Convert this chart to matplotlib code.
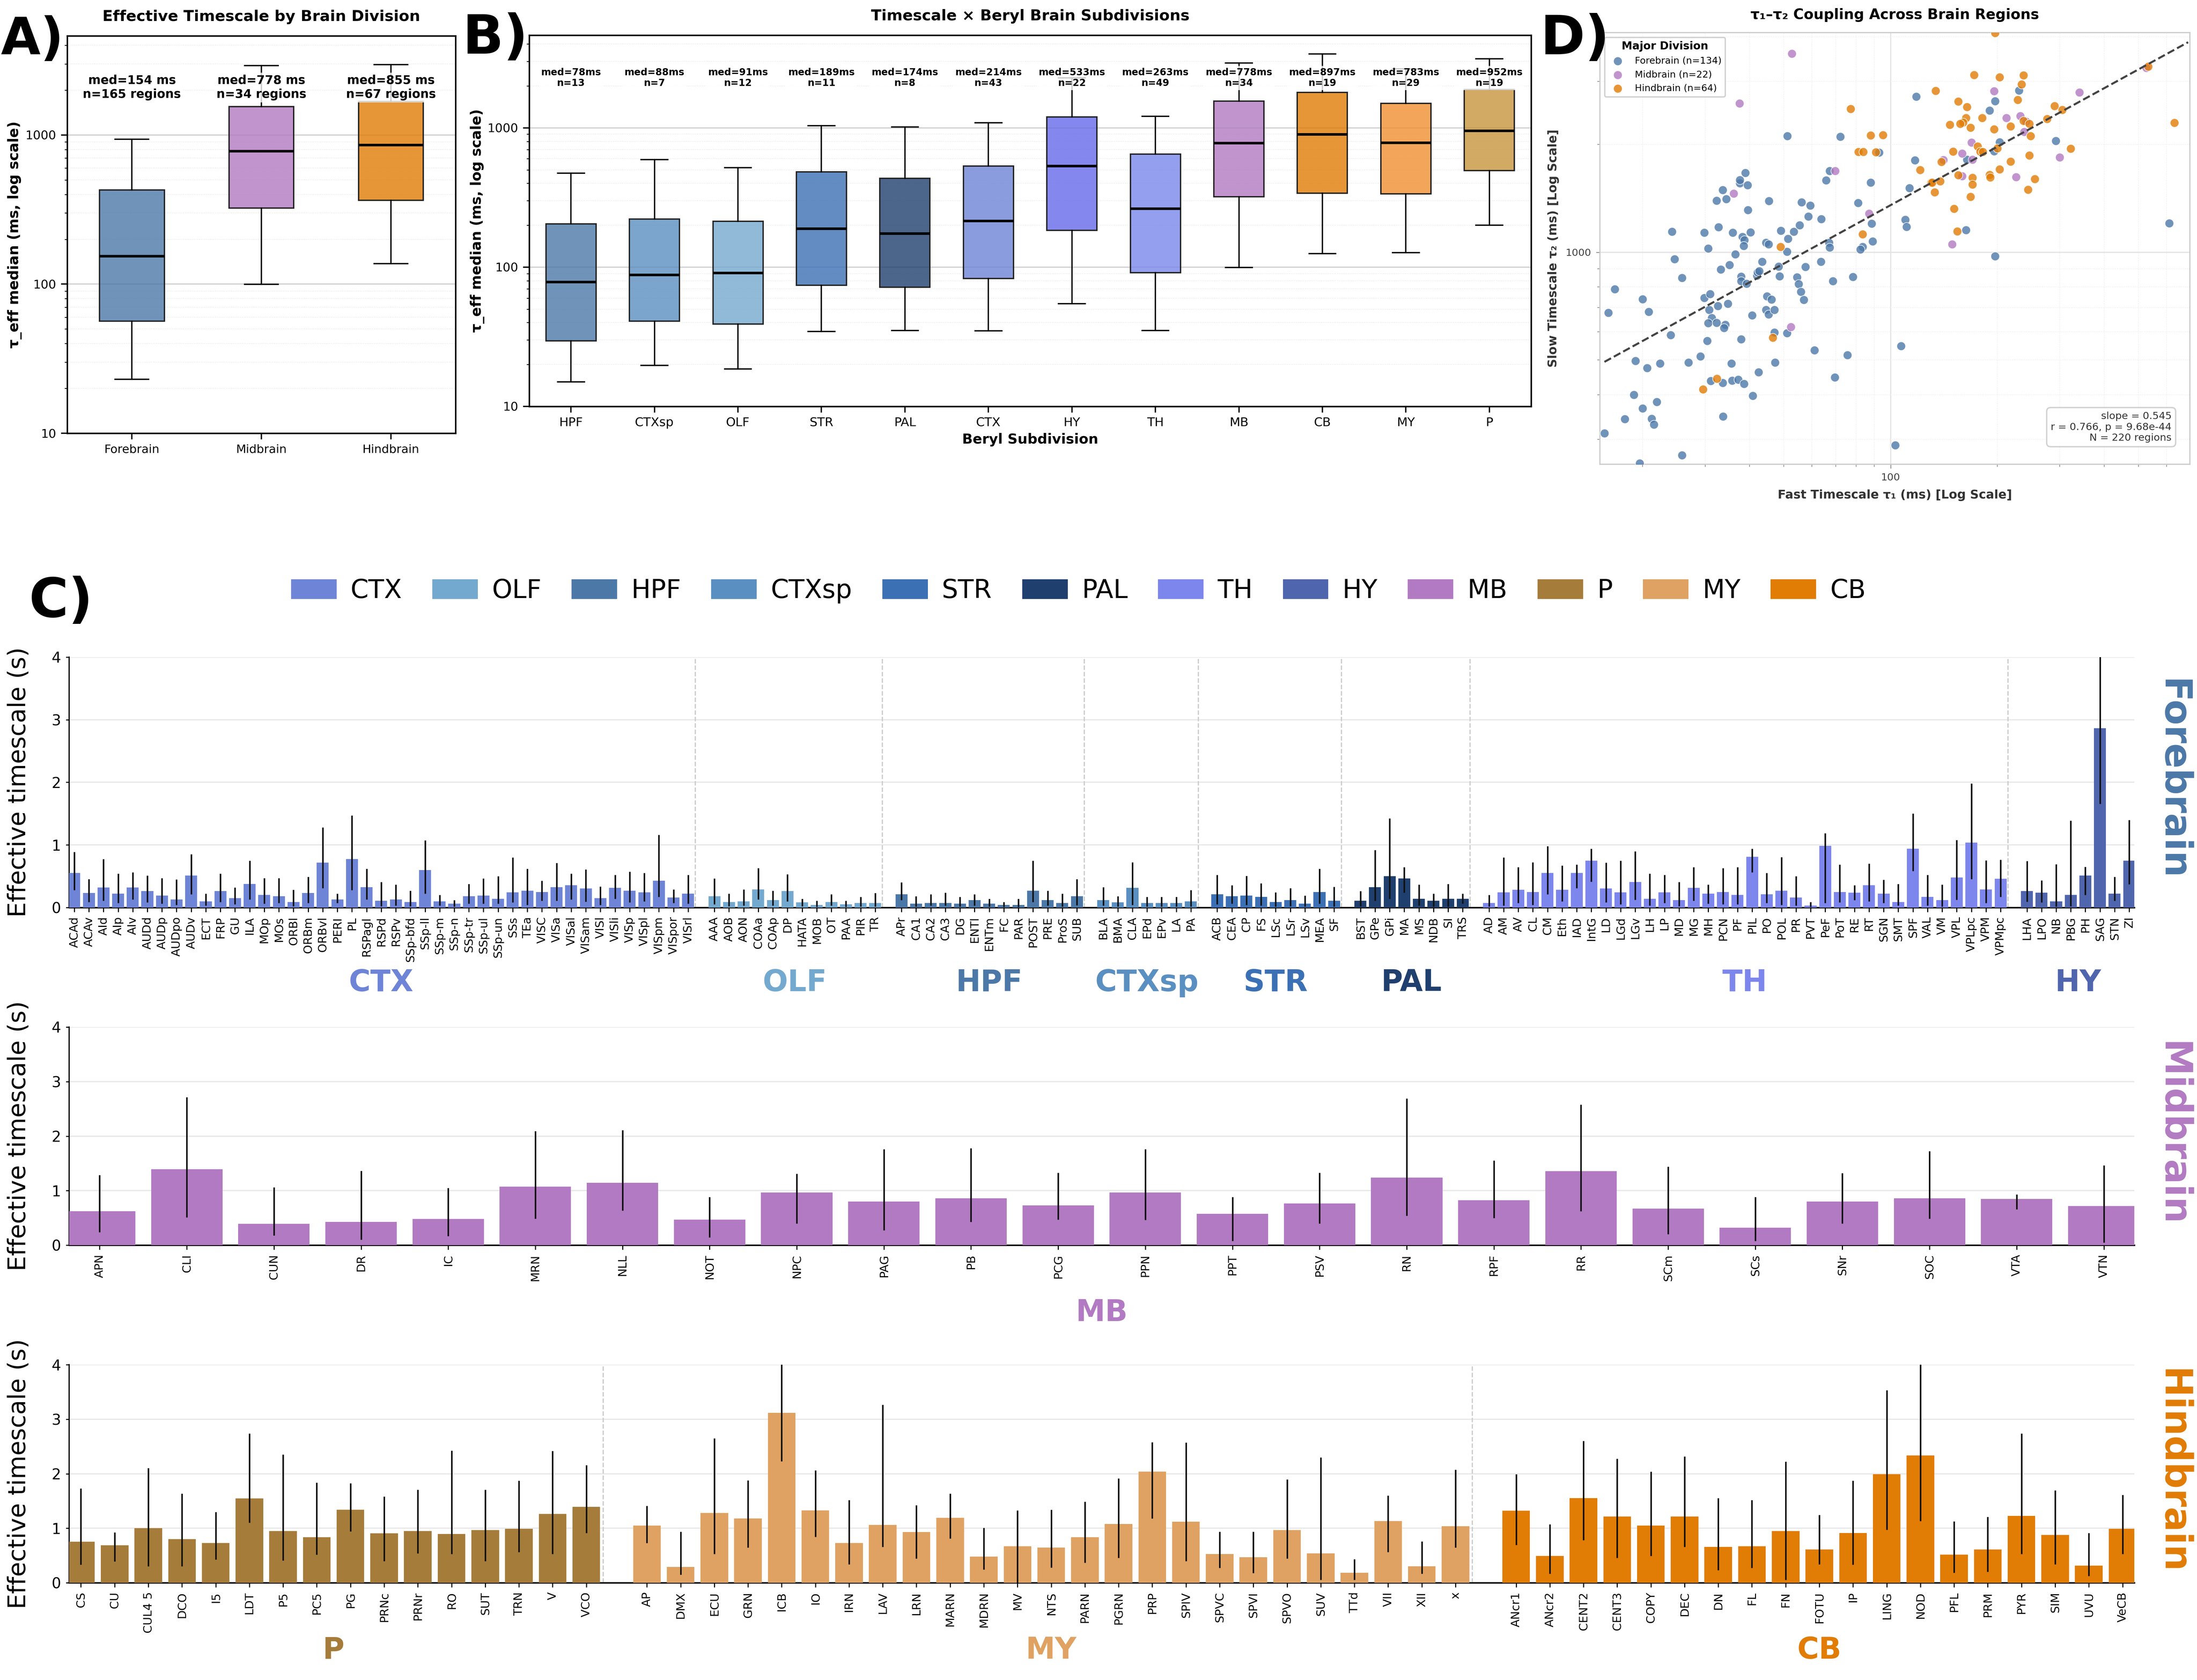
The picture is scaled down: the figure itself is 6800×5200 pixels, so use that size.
import matplotlib
matplotlib.use("Agg")
from matplotlib import pyplot as plt
from matplotlib.colors import to_rgba
from matplotlib.patches import Patch
from matplotlib.ticker import LogLocator, NullFormatter
import numpy as np

# ---- panel A ----
div_names = ["Forebrain", "Midbrain", "Hindbrain"]
div_med = [154, 778, 855]
div_q1 = [56.5, 324, 365]
div_q3 = [428, 1552, 1682]
div_lo = [23, 99.6, 137]
div_hi = [935, 2924, 2970]
div_n = [165, 34, 67]
div_colors = ["#4C78A8", "#B27AC2", "#E17C05"]

# ---- panel B ----
sub_names = ["HPF", "CTXsp", "OLF", "STR", "PAL", "CTX", "HY", "TH", "MB", "CB", "MY", "P"]
sub_med = [78, 88, 91, 189, 174, 214, 533, 263, 778, 897, 783, 952]
sub_q1 = [29.6, 41, 39, 74, 71.8, 82.9, 183.6, 91.5, 321, 340, 336, 493]
sub_q3 = [204.8, 221, 213, 484, 434, 531, 1200, 647, 1552, 1800, 1500, 1883]
sub_lo = [15, 19.7, 18.6, 34.6, 35, 34.9, 54.7, 35, 99.5, 125, 127, 199.6]
sub_hi = [472, 593, 518, 1035, 1014, 1087, 2280, 1213, 2924, 3388, 2648, 3133]
sub_n = [13, 7, 12, 11, 8, 43, 22, 49, 34, 19, 29, 19]
sub_colors = ["#4C78A8", "#5A8FC1", "#74A9CF", "#3C70B5", "#1F3F6E", "#6E84D6",
              "#666BEA", "#7A87EC", "#B27AC2", "#E17C05", "#F19031", "#C9953C"]

# ---- panel D (ms) ----
fore_t1 = [15.6, 17.8, 18.9, 19.6, 20.0, 21.2, 21.5, 21.9, 19.1, 20.6, 22.4, 24.0, 25.8, 26.9, 29.1, 16.0, 16.7, 20.0, 20.8,
           24.2, 24.6, 25.8, 29.8, 30.6, 32.7, 35.9, 38.2, 38.7, 38.5, 40.3, 36.5, 33.2, 35.1, 37.9, 37.9, 39.3, 42.0, 42.2,
           42.6, 43.4, 29.8, 31.0, 30.8, 32.6, 34.8, 31.3, 30.6, 32.3, 34.2, 33.9, 30.4, 37.9, 40.7, 35.6, 31.1, 33.6, 35.7,
           37.2, 38.6, 42.4, 40.9, 33.7, 32.3, 33.6, 34.4, 37.6, 37.6, 38.9, 39.5, 39.6, 45.4, 44.5, 45.3, 49.0, 51.4, 51.0,
           53.3, 55.4, 48.3, 48.6, 57.5, 54.5, 55.0, 55.9, 56.9, 44.8, 46.1, 44.5, 45.3, 47.0, 47.0, 51.0, 47.2, 61.0, 51.1,
           72.2, 56.1, 59.3, 58.6, 63.8, 65.8, 67.3, 67.1, 67.3, 63.6, 68.8, 78.3, 75.5, 69.6, 81.0, 87.9, 88.4, 88.9, 83.3,
           82.2, 92.7, 103, 107, 110, 111, 113, 117, 118, 163, 164, 190, 197, 230, 196, 203, 292, 197, 610]
fore_t2 = [312, 342, 400, 257, 366, 343, 330, 382, 497, 475, 489, 587, 271, 492, 512, 678, 788, 740, 682,
           1143, 956, 848, 1136, 1026, 1175, 1136, 1105, 1082, 1043, 1138, 987, 896, 921, 855, 831, 817, 860, 879,
           886, 942, 746, 764, 691, 708, 718, 656, 634, 635, 628, 615, 565, 571, 667, 489, 437, 432, 438,
           441, 429, 462, 397, 348, 1395, 1493, 1410, 1561, 1592, 1668, 1542, 1312, 1392, 1063, 1054, 1148, 1091, 1004,
           1141, 1190, 913, 858, 911, 851, 816, 775, 737, 754, 738, 690, 671, 691, 597, 594, 492, 533, 2111,
           2106, 1381, 1351, 1260, 1239, 1588, 1689, 1063, 1032, 942, 830, 853, 516, 447, 1375, 1565, 1203, 1073, 1035,
           1019, 1902, 289, 547, 1234, 1177, 1513, 1808, 2722, 1153, 1815, 2490, 2643, 2835, 1918, 2031, 2049, 975, 1205]
mid_t1 = [52.7, 37.5, 36.1, 69.8, 86.9, 52.3, 149, 141, 159, 159, 169, 170, 226, 196, 212, 232, 238, 300, 341, 526, 241]
mid_t2 = [3587, 2609, 1459, 1689, 1282, 619, 1054, 1811, 1632, 1890, 2027, 1815, 1622, 2823, 2372, 2402, 2170, 1842, 2798, 3274, 2322]
hind_t1 = [197, 172, 203, 237, 234, 134, 155, 164, 228, 77.2, 290, 305, 276, 163, 181, 160, 157, 147, 168, 196, 218, 237, 246,
           631, 532, 87.9, 95.1, 248, 81.2, 83.8, 90.9, 150, 176, 179, 182, 200, 322, 246, 139, 218, 121, 203, 155, 170, 190,
           191, 255, 130, 131, 138, 170, 133, 244, 168, 151, 154, 83.3, 48.9, 46.5, 32.4, 29.6]
hind_t2 = [4100, 3132, 3086, 3126, 2945, 2829, 2637, 2549, 2665, 2517, 2565, 2501, 2357, 2372, 2372, 2307, 2288, 2273, 2230, 2207, 2250, 2332, 2288,
           2302, 3303, 2124, 2128, 2115, 1910, 1910, 1906, 1914, 1976, 1914, 1910, 1951, 1947, 1866, 1788, 1793, 1700, 1704, 1643, 1616, 1646,
           1619, 1602, 1565, 1565, 1578, 1548, 1471, 1497, 1428, 1323, 1145, 1124, 1035, 577, 443, 414]
fit_t1 = [15.6, 690]
fit_t2 = [494, 3864]

# ---- panel C, forebrain row (s) ----
ctx_names = ["ACAd", "ACAv", "AId", "AIp", "AIv", "AUDd", "AUDp", "AUDpo", "AUDv", "ECT", "FRP", "GU", "ILA", "MOp", "MOs", "ORBl", "ORBm", "ORBvl", "PERI", "PL", "RSPagl", "RSPd", "RSPv", "SSp-bfd", "SSp-ll", "SSp-m", "SSp-n", "SSp-tr", "SSp-ul", "SSp-un", "SSs", "TEa", "VISC", "VISa", "VISal", "VISam", "VISl", "VISli", "VISp", "VISpl", "VISpm", "VISpor", "VISrl"]
ctx_val = [.55, .23, .32, .22, .32, .265, .19, .13, .51, .10, .265, .15, .375, .20, .18, .09, .23, .715, .13, .775, .325, .11, .13, .09, .60, .10, .06, .18, .19, .14, .24, .27, .25, .325, .355, .305, .15, .315, .27, .24, .43, .16, .22]
ctx_lo = [.28, .09, .11, .07, .13, .08, .06, .04, .21, .03, .09, .05, .13, .06, .07, .02, .07, .31, .07, .28, .13, .02, .03, .02, .22, .03, .015, .06, .06, .06, .08, .04, .11, .11, .13, .095, .04, .14, .08, .10, .17, .07, .06]
ctx_hi = [.89, .455, .775, .54, .56, .51, .47, .45, .85, .22, .54, .32, .75, .47, .47, .285, .49, 1.28, .22, 1.47, .62, .41, .365, .27, 1.075, .20, .12, .375, .465, .50, .80, .62, .43, .71, .54, .61, .335, .52, .575, .55, 1.16, .29, .52]

olf_names = ["AAA", "AOB", "AON", "COAa", "COAp", "DP", "HATA", "MOB", "OT", "PAA", "PIR", "TR"]
olf_val = [.18, .09, .10, .29, .12, .265, .08, .04, .09, .05, .07, .07]
olf_lo = [.05, .02, .03, .13, .03, .10, .02, .01, .03, .01, .015, .015]
olf_hi = [.465, .22, .29, .63, .27, .53, .14, .11, .21, .11, .17, .23]

hpf_names = ["APr", "CA1", "CA2", "CA3", "DG", "ENTl", "ENTm", "FC", "PAR", "POST", "PRE", "ProS", "SUB"]
hpf_val = [.21, .06, .07, .07, .06, .12, .06, .04, .04, .27, .12, .07, .18]
hpf_lo = [.12, .015, .03, .03, .015, .03, .015, .01, .01, .09, .03, .015, .035]
hpf_hi = [.40, .18, .21, .235, .17, .21, .14, .09, .14, .75, .27, .22, .455]

ctxsp_names = ["BLA", "BMA", "CLA", "EPd", "EPv", "LA", "PA"]
ctxsp_val = [.12, .08, .315, .07, .07, .07, .10]
ctxsp_lo = [.03, .015, .04, .015, .015, .015, .015]
ctxsp_hi = [.325, .18, .72, .17, .17, .17, .28]

str_names = ["ACB", "CEA", "CP", "FS", "LSc", "LSr", "LSv", "MEA", "SF"]
str_val = [.21, .18, .19, .17, .09, .12, .06, .25, .11]
str_lo = [.05, .06, .04, .03, .015, .02, .015, .06, .015]
str_hi = [.52, .355, .505, .385, .24, .31, .19, .62, .33]

pal_names = ["BST", "GPe", "GPi", "MA", "MS", "NDB", "SI", "TRS"]
pal_val = [.11, .325, .50, .465, .14, .11, .14, .14]
pal_lo = [.02, .11, .14, .235, .03, .015, .015, .06]
pal_hi = [.265, .92, 1.425, .645, .365, .22, .375, .22]

th_names = ["AD", "AM", "AV", "CL", "CM", "Eth", "IAD", "IntG", "LD", "LGd", "LGv", "LH", "LP", "MD", "MG", "MH", "PCN", "PF", "PIL", "PO", "POL", "PR", "PVT", "PeF", "PoT", "RE", "RT", "SGN", "SMT", "SPF", "VAL", "VM", "VPL", "VPLpc", "VPM", "VPMpc"]
th_val = [.07, .24, .285, .25, .55, .285, .55, .75, .305, .245, .41, .14, .245, .12, .315, .22, .25, .20, .81, .21, .27, .16, .03, .985, .25, .235, .355, .22, .09, .94, .17, .12, .48, 1.035, .29, .46]
th_lo = [.015, .03, .07, .04, .21, .10, .31, .415, .08, .05, .125, .03, .07, .02, .11, .06, .05, .05, .56, .07, .04, .03, .01, .07, .08, .12, .10, .07, .03, .585, .03, .015, .125, .455, .07, .17]
th_hi = [.20, .80, .645, .72, .98, .67, .685, .94, .715, .75, .90, .54, .52, .41, .645, .365, .63, .645, .94, .55, .805, .50, .09, 1.185, .685, .355, .70, .445, .375, 1.50, .52, .365, 1.08, 1.98, .755, .765]

hy_names = ["LHA", "LPO", "NB", "PBG", "PH", "SAG", "STN", "ZI"]
hy_val = [.265, .235, .10, .20, .51, 2.865, .22, .75]
hy_lo = [.095, .085, .015, .02, .20, 1.655, .11, .37]
hy_hi = [.745, .435, .69, 1.39, .65, 4.3, .49, 1.40]

# ---- panel C, midbrain row ----
mb_names = ["APN", "CLI", "CUN", "DR", "IC", "MRN", "NLL", "NOT", "NPC", "PAG", "PB", "PCG", "PPN", "PPT", "PSV", "RN", "RPF", "RR", "SCm", "SCs", "SNr", "SOC", "VTA", "VTN"]
mb_val = [.62, 1.39, .39, .425, .48, 1.07, 1.145, .47, .965, .80, .86, .73, .965, .575, .765, 1.24, .825, 1.355, .67, .32, .80, .86, .85, .72]
mb_lo = [.24, .51, .175, .10, .165, .485, .635, .145, .40, .27, .425, .47, .46, .08, .40, .54, .495, .625, .20, .08, .40, .485, .66, .045]
mb_hi = [1.285, 2.715, 1.06, 1.365, 1.05, 2.09, 2.11, .885, 1.31, 1.76, 1.78, 1.33, 1.76, .885, 1.33, 2.69, 1.555, 2.58, 1.44, .885, 1.32, 1.725, .93, 1.465]

# ---- panel C, hindbrain row ----
p_names = ["CS", "CU", "CUL4 5", "DCO", "I5", "LDT", "P5", "PC5", "PG", "PRNc", "PRNr", "RO", "SUT", "TRN", "V", "VCO"]
p_val = [.755, .685, 1.0, .80, .73, 1.545, .95, .835, 1.34, .905, .95, .895, .965, .99, 1.26, 1.39]
p_lo = [.33, .39, .305, .305, .425, 1.10, .41, .515, .945, .40, .54, .53, .40, .565, .53, .91]
p_hi = [1.73, .925, 2.105, 1.635, 1.295, 2.735, 2.355, 1.835, 1.825, 1.585, 1.705, 2.425, 1.705, 1.87, 2.415, 2.155]

my_names = ["AP", "DMX", "ECU", "GRN", "ICB", "IO", "IRN", "LAV", "LRN", "MARN", "MDRN", "MV", "NTS", "PARN", "PGRN", "PRP", "SPIV", "SPVC", "SPVI", "SPVO", "SUV", "TTd", "VII", "XII", "x"]
my_val = [1.05, .29, 1.28, 1.18, 3.115, 1.33, .73, 1.06, .93, 1.19, .48, .67, .645, .835, 1.08, 2.04, 1.12, .53, .47, .965, .54, .185, 1.13, .30, 1.035]
my_lo = [.73, .15, .53, .645, 2.23, .84, .34, .66, .445, .81, .245, 0, .28, .365, .455, 1.18, .40, .27, .175, .445, .055, .055, .565, .165, .645]
my_hi = [1.41, .935, 2.65, 1.88, 4.3, 2.065, 1.52, 3.265, 1.42, 1.635, 1.01, 1.33, 1.34, 1.49, 1.915, 2.58, 2.57, .935, .935, 1.895, 2.30, .43, 1.60, .76, 2.075]

cb_names = ["ANcr1", "ANcr2", "CENT2", "CENT3", "COPY", "DEC", "DN", "FL", "FN", "FOTU", "IP", "LING", "NOD", "PFL", "PRM", "PYR", "SIM", "UVU", "VeCB"]
cb_val = [1.32, .49, 1.555, 1.215, 1.05, 1.215, .66, .67, .95, .61, .915, 1.99, 2.335, .515, .61, 1.225, .88, .315, .99]
cb_lo = [.695, .165, .78, .455, .49, .66, .23, .27, .055, .34, .33, .97, 1.13, .185, .20, .53, .34, .125, .53]
cb_hi = [1.99, 1.07, 2.60, 2.275, 2.04, 2.32, 1.55, 1.515, 2.225, 1.245, 1.87, 3.53, 4.3, 1.125, 1.21, 2.735, 1.695, .915, 1.61]

group_colors = {"CTX": "#6E84D6", "OLF": "#74A9CF", "HPF": "#4C78A8", "CTXsp": "#5A8FC1", "STR": "#3C70B5", "PAL": "#1F3F6E",
                "TH": "#7D86EC", "HY": "#4F65AD", "MB": "#B27AC2", "P": "#A67C3A", "MY": "#DFA262", "CB": "#E17C05"}

W, H = 6800, 5200
fig = plt.figure(figsize=(W / 300, H / 300), dpi=300, facecolor="white")


def px_axes(left, top, right, bottom):
    return fig.add_axes([left / W, 1 - bottom / H, (right - left) / W, (bottom - top) / H])


def fig_text(x, y, s, **kw):
    return fig.text(x / W, 1 - y / H, s, **kw)


def log_ticks(axis):
    axis.set_minor_locator(LogLocator(base=10, subs=range(2, 10), numticks=30))
    axis.set_minor_formatter(NullFormatter())


def box_panel(ax, names, med, q1, q3, lo, hi, colors, notes, width, capw, note_y, note_fs):
    stats = []
    for i in range(len(names)):
        stats.append({"med": med[i], "q1": q1[i], "q3": q3[i], "whislo": lo[i], "whishi": hi[i], "fliers": []})
    pos = list(range(len(names)))
    parts = ax.bxp(stats, positions=pos, widths=width, capwidths=capw, patch_artist=True, showfliers=False,
                   manage_ticks=False, boxprops=dict(linewidth=1, edgecolor="#222222"),
                   medianprops=dict(color="black", linewidth=1.9),
                   whiskerprops=dict(color="black", linewidth=1), capprops=dict(color="black", linewidth=1), zorder=3)
    for patch, c in zip(parts["boxes"], colors):
        patch.set_facecolor(to_rgba(c, 0.8))
    ax.set_yscale("log")
    ax.set_ylim(10, 4625)
    ax.set_xlim(-0.5, len(names) - 0.5)
    ax.set_yticks([10, 100, 1000], ["10", "100", "1000"], fontsize=9)
    log_ticks(ax.yaxis)
    ax.set_xticks(pos, names)
    ax.grid(axis="y", which="major", color="#d4d4d4", lw=1)
    ax.grid(axis="y", which="minor", color="#e6e6e6", lw=0.5, ls=":")
    ax.set_axisbelow(True)
    ax.tick_params(axis="both", which="major", length=4.5, width=1)
    ax.tick_params(axis="y", which="minor", length=2, width=0.6)
    for s in ax.spines.values():
        s.set_linewidth(1.1)
    for i, note in enumerate(notes):
        ax.text(i, note_y, note, transform=ax.get_xaxis_transform(), ha="center", va="center", fontsize=note_fs,
                fontweight="bold", zorder=6, bbox=dict(facecolor="white", alpha=0.8, edgecolor="none", pad=1.5))


def bar_row(ax, groups, label_y):
    start = 0.0
    ticks, labels = [], []
    for g_name, names, vals, lows, highs in groups:
        x = start + np.arange(len(names))
        ax.bar(x, vals, width=0.82, color=group_colors[g_name], zorder=3)
        ax.vlines(x, lows, highs, color="#111111", lw=1.15, zorder=4)
        ticks += list(x)
        labels += names
        ax.text(x.mean(), label_y, g_name, transform=ax.get_xaxis_transform(), ha="center", va="center",
                fontsize=22, fontweight="bold", color=group_colors[g_name])
        if g_name != groups[-1][0]:
            ax.axvline(x[-1] + 0.5, color="#cccccc", lw=0.9, ls="--", zorder=1)
        start = x[-1] + 1.8
    ax.set_xlim(-0.35, ticks[-1] + 0.35)
    ax.set_ylim(0, 4)
    ax.set_xticks(ticks, labels, rotation=90, fontsize=8.6)
    ax.set_yticks([0, 1, 2, 3, 4])
    ax.tick_params(axis="y", labelsize=11, length=2.5, width=0.8)
    ax.tick_params(axis="x", length=3.3, width=0.8)
    ax.grid(axis="y", color="#e8e8e8", lw=0.9)
    ax.set_axisbelow(True)
    ax.spines["top"].set_visible(False)
    ax.spines["right"].set_visible(False)
    ax.spines["left"].set_linewidth(0.9)
    ax.spines["bottom"].set_linewidth(1.1)
    ax.set_ylabel("Effective timescale (s)", fontsize=18)
    ax.yaxis.set_label_coords(-0.0186, 0.5)


# panel A
ax_a = px_axes(208, 111, 1410, 1341)
a_notes = ["med=%d ms\nn=%d regions" % (m, n) for m, n in zip(div_med, div_n)]
box_panel(ax_a, div_names, div_med, div_q1, div_q3, div_lo, div_hi, div_colors, a_notes, 0.5, 0.26, 0.87, 8.9)
ax_a.tick_params(axis="x", labelsize=8.7)
ax_a.set_title("Effective Timescale by Brain Division", fontsize=11.3, fontweight="bold", pad=11)
ax_a.set_ylabel("τ_eff median (ms, log scale)", fontsize=10.7, fontweight="bold")
ax_a.yaxis.set_label_coords(-0.1165, 0.5)

# panel B
ax_b = px_axes(1638, 109, 4739, 1258)
b_notes = ["med=%dms\nn=%d" % (m, n) for m, n in zip(sub_med, sub_n)]
box_panel(ax_b, sub_names, sub_med, sub_q1, sub_q3, sub_lo, sub_hi, sub_colors, b_notes, 0.6, 0.32, 0.885, 7.1)
ax_b.tick_params(axis="x", labelsize=9.2)
ax_b.set_title("Timescale × Beryl Brain Subdivisions", fontsize=11.3, fontweight="bold", pad=11)
ax_b.set_ylabel("τ_eff median (ms, log scale)", fontsize=10.5, fontweight="bold")
ax_b.yaxis.set_label_coords(-0.0445, 0.5)
ax_b.set_xlabel("Beryl Subdivision", fontsize=10.3, fontweight="bold")
ax_b.xaxis.set_label_coords(0.5, -0.0714)

# panel D
ax_d = px_axes(4952, 101, 6778, 1437)
ax_d.scatter(fore_t1, fore_t2, s=42, color=div_colors[0], alpha=0.8, edgecolors="white", linewidths=0.5, zorder=3,
             label="Forebrain (n=134)")
ax_d.scatter(mid_t1, mid_t2, s=42, color=div_colors[1], alpha=0.8, edgecolors="white", linewidths=0.5, zorder=3,
             label="Midbrain (n=22)")
ax_d.scatter(hind_t1, hind_t2, s=42, color=div_colors[2], alpha=0.8, edgecolors="white", linewidths=0.5, zorder=3,
             label="Hindbrain (n=64)")
ax_d.plot(fit_t1, fit_t2, color="#444444", lw=1.5, ls="--", zorder=4)
ax_d.set_xscale("log")
ax_d.set_yscale("log")
ax_d.set_xlim(15.15, 698)
ax_d.set_ylim(255.6, 4110)
ax_d.set_xticks([100], ["100"])
ax_d.set_yticks([1000], ["1000"])
log_ticks(ax_d.xaxis)
log_ticks(ax_d.yaxis)
ax_d.tick_params(axis="both", which="major", labelsize=7.5, labelcolor="#444444", length=3, width=0.6, color="#888888")
ax_d.tick_params(axis="both", which="minor", length=2, width=0.5, color="#888888")
ax_d.grid(which="major", color="#e4e4e4", lw=0.9)
ax_d.grid(which="minor", color="#ececec", lw=0.5, ls=":")
ax_d.set_axisbelow(True)
for s in ax_d.spines.values():
    s.set_color("#cccccc")
    s.set_linewidth(0.9)
ax_d.set_title("τ₁–τ₂ Coupling Across Brain Regions", fontsize=10.6, fontweight="bold", pad=10)
ax_d.set_xlabel("Fast Timescale τ₁ (ms) [Log Scale]", fontsize=9, fontweight="bold", color="#333333")
ax_d.set_ylabel("Slow Timescale τ₂ (ms) [Log Scale]", fontsize=9, fontweight="bold", color="#333333")
ax_d.xaxis.set_label_coords(0.5, -0.0584)
ax_d.yaxis.set_label_coords(-0.069, 0.5)
ax_d.legend(loc="upper left", title="Major Division", fontsize=7, title_fontproperties={"weight": "bold", "size": 8},
            framealpha=0.9, edgecolor="#cccccc")
ax_d.text(0.969, 0.05, "slope = 0.545\nr = 0.766, p = 9.68e-44\nN = 220 regions", transform=ax_d.transAxes, ha="right",
          va="bottom", fontsize=7.5, color="#333333", zorder=6,
          bbox=dict(boxstyle="round,pad=0.4", facecolor="white", edgecolor="#cccccc", alpha=0.9))

# panel C
ax_fore = px_axes(214, 2034, 6606, 2809)
bar_row(ax_fore, [("CTX", ctx_names, ctx_val, ctx_lo, ctx_hi), ("OLF", olf_names, olf_val, olf_lo, olf_hi),
                  ("HPF", hpf_names, hpf_val, hpf_lo, hpf_hi), ("CTXsp", ctxsp_names, ctxsp_val, ctxsp_lo, ctxsp_hi),
                  ("STR", str_names, str_val, str_lo, str_hi), ("PAL", pal_names, pal_val, pal_lo, pal_hi),
                  ("TH", th_names, th_val, th_lo, th_hi), ("HY", hy_names, hy_val, hy_lo, hy_hi)], -0.3005)
ax_mid = px_axes(214, 3179, 6606, 3854)
bar_row(ax_mid, [("MB", mb_names, mb_val, mb_lo, mb_hi)], -0.31)
ax_hind = px_axes(214, 4224, 6606, 4899)
bar_row(ax_hind, [("P", p_names, p_val, p_lo, p_hi), ("MY", my_names, my_val, my_lo, my_hi),
                  ("CB", cb_names, cb_val, cb_lo, cb_hi)], -0.309)

fig_text(6724, 2413, "Forebrain", rotation=270, ha="center", va="center", fontsize=27.5, fontweight="bold", color="#4C78A8")
fig_text(6724, 3510, "Midbrain", rotation=270, ha="center", va="center", fontsize=27.5, fontweight="bold", color="#B27AC2")
fig_text(6724, 4555, "Hindbrain", rotation=270, ha="center", va="center", fontsize=27.5, fontweight="bold", color="#E17C05")

handles = [Patch(facecolor=c, edgecolor="none", label=k) for k, c in group_colors.items()]
fig.legend(handles=handles, loc="center", bbox_to_anchor=(3338 / W, 1 - 1829 / H), ncol=12, frameon=False, fontsize=19.2,
           handlelength=1.76, handleheight=0.8, handletextpad=0.54, columnspacing=1.17, borderpad=0, borderaxespad=0)

# panel letters
fig_text(2, 168, "A)", fontsize=38, fontweight="bold", va="baseline")
fig_text(1432, 166, "B)", fontsize=40, fontweight="bold", va="baseline")
fig_text(90, 1910, "C)", fontsize=40, fontweight="bold", va="baseline")
fig_text(4768, 168, "D)", fontsize=40, fontweight="bold", va="baseline")

fig.savefig("out.png", dpi=300)
